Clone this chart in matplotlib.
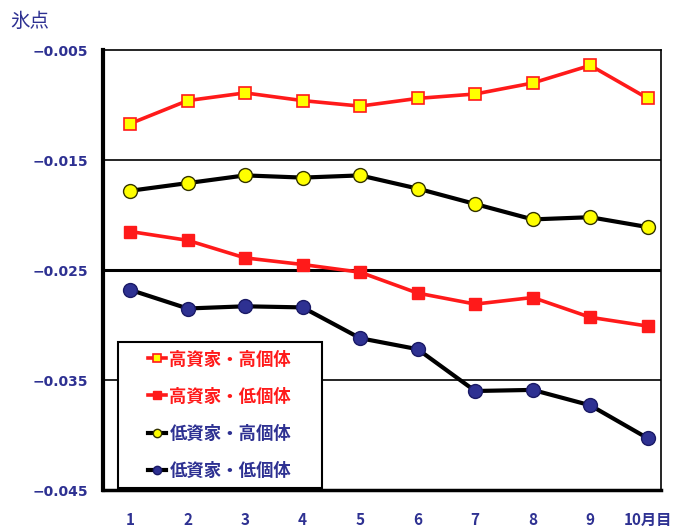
import matplotlib
matplotlib.use("Agg")
import matplotlib.pyplot as plt
from matplotlib.patches import Rectangle
from matplotlib.ticker import FixedLocator

plt.rcParams["font.family"] = ["Noto Sans CJK JP", "DejaVu Sans"]

months = [1, 2, 3, 4, 5, 6, 7, 8, 9, 10]
month_labels = ["1", "2", "3", "4", "5", "6", "7", "8", "9", "10月目"]

high_high = [-0.0117, -0.0096, -0.0089, -0.0096, -0.0101, -0.0094, -0.0090, -0.0080, -0.0064, -0.0094]
high_low = [-0.0215, -0.0223, -0.0239, -0.0245, -0.0252, -0.0271, -0.0281, -0.0275, -0.0293, -0.0301]
low_high = [-0.0178, -0.0171, -0.0164, -0.0166, -0.0164, -0.0176, -0.0190, -0.0204, -0.0202, -0.0211]
low_low = [-0.0268, -0.0285, -0.0283, -0.0284, -0.0312, -0.0322, -0.0360, -0.0359, -0.0373, -0.0403]

labels = ["高資家・高個体", "高資家・低個体", "低資家・高個体", "低資家・低個体"]
y_ticks = [-0.005, -0.015, -0.025, -0.035, -0.045]

RED = "#ff1a1a"
BLUE = "#2e3192"
YELLOW = "#ffff00"

W, H = 676, 528
AX_W, AX_H = 558, 440
fig = plt.figure(figsize=(W / 100, H / 100), dpi=100)
ax = fig.add_axes([103 / W, 38 / H, AX_W / W, AX_H / H])

ax.plot(months, high_high, color=RED, lw=2.6, marker="s", ms=9,
        mfc=YELLOW, mec=RED, mew=1.2, label=labels[0], zorder=3)
ax.plot(months, high_low, color=RED, lw=2.6, marker="s", ms=9,
        mfc=RED, mec=RED, label=labels[1], zorder=3)
ax.plot(months, low_high, color="black", lw=3, marker="o", ms=10,
        mfc=YELLOW, mec="#333300", mew=1.0, label=labels[2], zorder=3)
ax.plot(months, low_low, color="black", lw=3, marker="o", ms=10,
        mfc=BLUE, mec="#1a1a66", mew=1.0, label=labels[3], zorder=3)

ax.set_xlim(0.53, 10.23)
ax.set_ylim(-0.045, -0.005)

# horizontal reference lines
ax.axhline(-0.015, color="black", lw=1.2, zorder=1)
ax.axhline(-0.025, color="black", lw=2.2, zorder=1)
ax.axhline(-0.035, color="black", lw=1.2, zorder=1)

ax.yaxis.set_major_locator(FixedLocator(y_ticks))
ax.set_yticklabels([f"{v:.3f}".replace("-", "\u2212") for v in y_ticks],
                   family="DejaVu Sans", fontweight="bold", color=BLUE, fontsize=10)
ax.set_xticks(months)
ax.set_xticklabels(month_labels, fontweight="bold", color=BLUE, fontsize=11)
ax.tick_params(axis="both", length=0)
ax.tick_params(axis="y", pad=11)
ax.tick_params(axis="x", pad=16)

for side in ["top", "right"]:
    ax.spines[side].set_linewidth(1.2)
ax.spines["left"].set_linewidth(3)
ax.spines["bottom"].set_linewidth(2.5)

# legend box drawn separately so it can be wider than its contents
ax.add_patch(Rectangle((15 / AX_W, 2 / AX_H), 204 / AX_W, 146 / AX_H,
                       transform=ax.transAxes, facecolor="white",
                       edgecolor="black", lw=1.5, zorder=4))
leg = ax.legend(loc="upper left", bbox_to_anchor=(42 / AX_W, 143 / AX_H),
                frameon=False, prop={"family": "Noto Sans CJK JP",
                                     "weight": "bold", "size": 12.5},
                handlelength=1.0, handletextpad=0.2, borderpad=0.2,
                labelspacing=1.1, borderaxespad=0, markerscale=0.6)
leg.set_zorder(5)
for text, col in zip(leg.get_texts(), [RED, RED, BLUE, BLUE]):
    text.set_color(col)

fig.text(10 / W, 1 - 21 / H, "氷点", color=BLUE, fontsize=14,
         va="center", ha="left")

fig.savefig("out.png", dpi=100)
